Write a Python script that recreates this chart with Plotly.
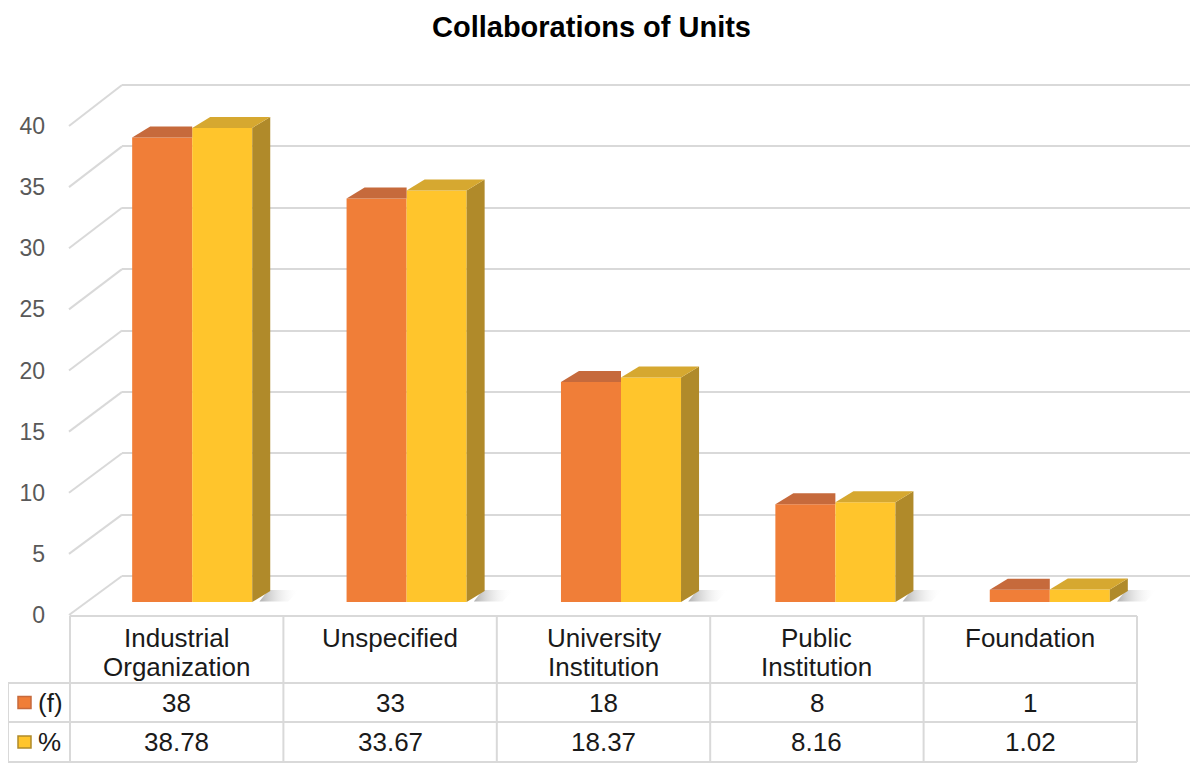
import plotly.graph_objects as go

# data
categories = ["Industrial<br>Organization", "Unspecified", "University<br>Institution",
              "Public<br>Institution", "Foundation"]
freq = [38, 33, 18, 8, 1]
pct = [38.78, 33.67, 18.37, 8.16, 1.02]
series_names = ["(f)", "%"]
y_ticks = [0, 5, 10, 15, 20, 25, 30, 35, 40]

# page has an 8px body margin, so the figure is drawn 8px in
PAD = 8
W, H = 1200 - PAD, 775 - PAD
FONT = "Liberation Sans, Arial, sans-serif"
GRID = "#D9D9D9"
TXT = "#1a1a1a"

ORANGE = "#F07E38"
ORANGE_TOP = "#C66A3C"
YELLOW = "#FFC52C"
YELLOW_TOP = "#D6A830"
YELLOW_SIDE = "#B08A2A"


def px(x):
    return (x - PAD) / W


def py(y):
    return 1 - (y - PAD) / H


# geometry of the fake 3d box (screen pixels)
front_zero, front_top = 615, 126     # where the value labels sit
back_zero, back_top = 576, 85        # back wall gridlines
bar_zero, bar_top = 602, 113         # bar front faces
back_left, back_right = 122, 1190
front_left = 69
table_left, table_x0, table_x1 = 8, 70, 1137
row_y = [616, 683, 722, 762]

idx = list(range(len(categories)))
bw = 0.28          # bar width (x units)
dx = 0.084         # depth offset in x
dy = 0.9           # depth offset in y

fig = go.Figure()

# back wall gridlines live on x/y
fig.add_trace(go.Scatter(x=[0], y=[0], mode="markers", marker=dict(opacity=0),
                         hoverinfo="skip", showlegend=False))

# bars on x2/y2
fig.add_trace(go.Bar(x=idx, y=freq, name=series_names[0], offset=-bw, width=bw,
                     marker=dict(color=ORANGE, line=dict(width=0)),
                     xaxis="x2", yaxis="y2", showlegend=False))
fig.add_trace(go.Bar(x=idx, y=pct, name=series_names[1], offset=0, width=bw,
                     marker=dict(color=YELLOW, line=dict(width=0)),
                     xaxis="x2", yaxis="y2", showlegend=False))

shadow_grad = dict(type="horizontal",
                   colorscale=[[0, "rgba(110,110,110,0.55)"], [1, "rgba(255,255,255,0)"]])
for i, vo, vy in zip(idx, freq, pct):
    # floor shadow
    fig.add_trace(go.Scatter(
        x=[i + bw + dx * 0.4, i + bw + dx * 2.0, i + bw + dx * 2.6, i + bw + dx * 0.9, i + bw + dx * 0.4],
        y=[0.05, 0.05, dy * 1.1, dy * 1.1, 0.05],
        fill="toself", mode="lines", line=dict(width=0), fillgradient=shadow_grad,
        xaxis="x2", yaxis="y2", hoverinfo="skip", showlegend=False))
    # orange top face (right part hidden behind yellow bar)
    fig.add_trace(go.Scatter(
        x=[i - bw, i, i, i - bw + dx, i - bw],
        y=[vo, vo, vo + dy, vo + dy, vo],
        fill="toself", mode="lines", line=dict(width=0), fillcolor=ORANGE_TOP,
        xaxis="x2", yaxis="y2", hoverinfo="skip", showlegend=False))
    # yellow side face
    fig.add_trace(go.Scatter(
        x=[i + bw, i + bw, i + bw + dx, i + bw + dx, i + bw],
        y=[0, vy, vy + dy, dy, 0],
        fill="toself", mode="lines", line=dict(width=0), fillcolor=YELLOW_SIDE,
        xaxis="x2", yaxis="y2", hoverinfo="skip", showlegend=False))
    # yellow top face
    fig.add_trace(go.Scatter(
        x=[i, i + bw, i + bw + dx, i + dx, i],
        y=[vy, vy, vy + dy, vy + dy, vy],
        fill="toself", mode="lines", line=dict(width=0), fillcolor=YELLOW_TOP,
        xaxis="x2", yaxis="y2", hoverinfo="skip", showlegend=False))

# value labels axis
fig.add_trace(go.Scatter(x=[0], y=[0], mode="markers", marker=dict(opacity=0),
                         xaxis="x2", yaxis="y3", hoverinfo="skip", showlegend=False))

shapes = []
# diagonal gridlines from the labels to the back wall
for v in y_ticks:
    yf = front_zero + (front_top - front_zero) * v / 40
    yb = back_zero + (back_top - back_zero) * v / 40
    shapes.append(dict(type="line", xref="paper", yref="paper", layer="below",
                       x0=px(front_left), y0=py(yf), x1=px(back_left), y1=py(yb),
                       line=dict(color=GRID, width=2)))

# data table grid
col_w = (table_x1 - table_x0) / len(categories)
col_x = [table_x0 + k * col_w for k in range(len(categories) + 1)]
shapes.append(dict(type="line", xref="paper", yref="paper", x0=px(table_x0), x1=px(table_x1),
                   y0=py(row_y[0]), y1=py(row_y[0]), line=dict(color=GRID, width=2)))
for ry in row_y[1:]:
    shapes.append(dict(type="line", xref="paper", yref="paper", x0=px(table_left), x1=px(table_x1),
                       y0=py(ry), y1=py(ry), line=dict(color=GRID, width=2)))
shapes.append(dict(type="line", xref="paper", yref="paper", x0=px(table_left), x1=px(table_left),
                   y0=py(row_y[1]), y1=py(row_y[3]), line=dict(color=GRID, width=2)))
for cx in col_x:
    shapes.append(dict(type="line", xref="paper", yref="paper", x0=px(cx), x1=px(cx),
                       y0=py(row_y[0]), y1=py(row_y[3]), line=dict(color=GRID, width=2)))

annotations = [dict(x=px(591), y=py(27), xref="paper", yref="paper",
                    text="<b>Collaborations of Units</b>", showarrow=False,
                    xanchor="center", yanchor="middle",
                    font=dict(size=29, color="#000000", family=FONT))]
cell_font = dict(size=26, color=TXT, family=FONT)
for k, cat in enumerate(categories):
    cx = (col_x[k] + col_x[k + 1]) / 2
    for j, line in enumerate(cat.split("<br>")):
        annotations.append(dict(x=px(cx), y=py(638 + 29 * j), xref="paper", yref="paper",
                                text=line, showarrow=False, xanchor="center", yanchor="middle",
                                font=cell_font))
    annotations.append(dict(x=px(cx), y=py((row_y[1] + row_y[2]) / 2), xref="paper", yref="paper",
                            text=str(freq[k]), showarrow=False, xanchor="center", yanchor="middle",
                            font=cell_font))
    annotations.append(dict(x=px(cx), y=py((row_y[2] + row_y[3]) / 2), xref="paper", yref="paper",
                            text=f"{pct[k]:.2f}", showarrow=False, xanchor="center", yanchor="middle",
                            font=cell_font))

# legend keys inside the table
for r, (name, col, edge) in enumerate(zip(series_names, [ORANGE, YELLOW], [ORANGE_TOP, YELLOW_SIDE])):
    yc = (row_y[r + 1] + row_y[r + 2]) / 2
    shapes.append(dict(type="rect", xref="paper", yref="paper",
                       x0=px(18), x1=px(31), y0=py(yc - 6), y1=py(yc + 6),
                       fillcolor=col, line=dict(color=edge, width=1.5)))
    annotations.append(dict(x=px(36), y=py(yc), xref="paper", yref="paper", text=name,
                            showarrow=False, xanchor="left", yanchor="middle",
                            font=cell_font))

# keep 0 and 40 gridlines away from the range edges
s_back = (back_zero - back_top) / 40

fig.update_layout(
    width=W, height=H, autosize=False,
    margin=dict(l=0, r=0, t=0, b=0, pad=0, autoexpand=False),
    paper_bgcolor="white", plot_bgcolor="rgba(0,0,0,0)",
    barmode="overlay",
    font=dict(family=FONT),
    xaxis=dict(domain=[px(back_left), px(back_right)], range=[0, 1], visible=False,
               automargin=False),
    yaxis=dict(domain=[py(back_zero + 0.5 * s_back), py(back_top - 0.5 * s_back)],
               range=[-0.5, 40.5], dtick=5, tick0=0, automargin=False,
               showgrid=True, gridcolor=GRID, gridwidth=2,
               zeroline=True, zerolinecolor=GRID, zerolinewidth=2,
               showticklabels=False, ticks="", showline=False),
    xaxis2=dict(domain=[px(85), px(1157)], range=[-0.5, 4.5], anchor="y2", visible=False,
                automargin=False),
    yaxis2=dict(domain=[py(bar_zero), py(bar_top)], range=[0, 40], anchor="x2", visible=False,
                automargin=False),
    yaxis3=dict(domain=[py(front_zero), py(front_top)], range=[0, 40], tickvals=y_ticks,
                anchor="free", position=px(45), side="left", showgrid=False, zeroline=False,
                showline=False, ticks="", automargin=False,
                tickfont=dict(size=23, color="#595959", family=FONT)),
    shapes=shapes,
    annotations=annotations,
)

fig.write_html("out.html")
